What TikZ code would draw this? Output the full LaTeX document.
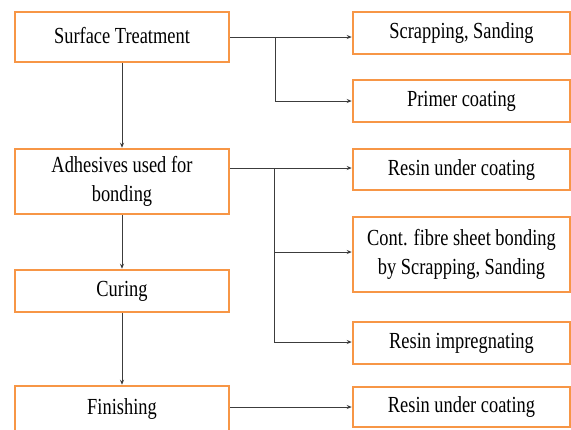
\documentclass[tikz,border=0pt]{standalone}
\usepackage{fontspec}
\setmainfont{Liberation Serif}[FakeStretch=0.8]
\usetikzlibrary{arrows.meta}
\definecolor{boxorange}{RGB}{247,150,70}
\definecolor{linegray}{RGB}{60,60,60}
\tikzset{
 box/.style={draw=boxorange, line width=2.5pt, fill=white, rectangle, inner sep=0pt, align=center, font=\fontsize{23}{29}\selectfont},
 lbox/.style={box, minimum width=214pt},
 rbox/.style={box, minimum width=217pt},
 conn/.style={draw=linegray, line width=0.9pt},
 arr/.style={conn, -{Stealth[length=5pt,width=4pt]}},
}
\begin{document}
\begin{tikzpicture}[x=1pt,y=-1pt]
\useasboundingbox (0,0) rectangle (571,429);
\begin{scope}
\clip (0,0) rectangle (571,429);
% left column
\node[lbox, minimum height=50pt] (st) at (122,37) {\raisebox{3pt}{Surface Treatment}};
\node[lbox, minimum height=65pt] (ad) at (122,181.5) {\raisebox{-3pt}{\begin{tabular}{@{}c@{}}Adhesives used for\\bonding\end{tabular}}};
\node[lbox, minimum height=42pt] (cu) at (122,291) {Curing};
\node[lbox, minimum height=46pt] (fi) at (122,409) {\raisebox{3pt}{Finishing}};
% right column
\node[rbox, minimum height=42pt] (ss) at (461.5,33) {Scrapping, Sanding};
\node[rbox, minimum height=42pt] (pc) at (461.5,101) {Primer coating};
\node[rbox, minimum height=41pt] (ru) at (461.5,169.5) {Resin under coating};
\node[rbox, minimum height=75pt] (cf) at (461.5,254.5) {Cont. fibre sheet bonding\\by Scrapping, Sanding};
\node[rbox, minimum height=42pt] (ri) at (461.5,343) {Resin impregnating};
\node[rbox, minimum height=40pt] (rb) at (461.5,407) {Resin under coating};
% junction coordinates
\coordinate (j1) at (275,37);
\coordinate (j2) at (274,168);
\coordinate (adr) at (ad.east |- j2);
% vertical flow
\draw[arr] (st.south) -- (ad.north);
\draw[arr] (ad.south) -- (cu.north);
\draw[arr] (cu.south) -- (fi.north);
% branches from Surface Treatment
\draw[arr] (st.east) -- (ss.west |- st.east);
\draw[arr] (j1) |- (pc.west);
% branches from Adhesives
\draw[arr] (adr) -- (ru.west |- adr);
\draw[arr] (j2) |- (cf.west |- 0,252);
\draw[arr] (j2) |- (ri.west |- 0,342);
% Finishing
\draw[arr] (fi.east |- rb.west) -- (rb.west);
\end{scope}
\end{tikzpicture}
\end{document}
